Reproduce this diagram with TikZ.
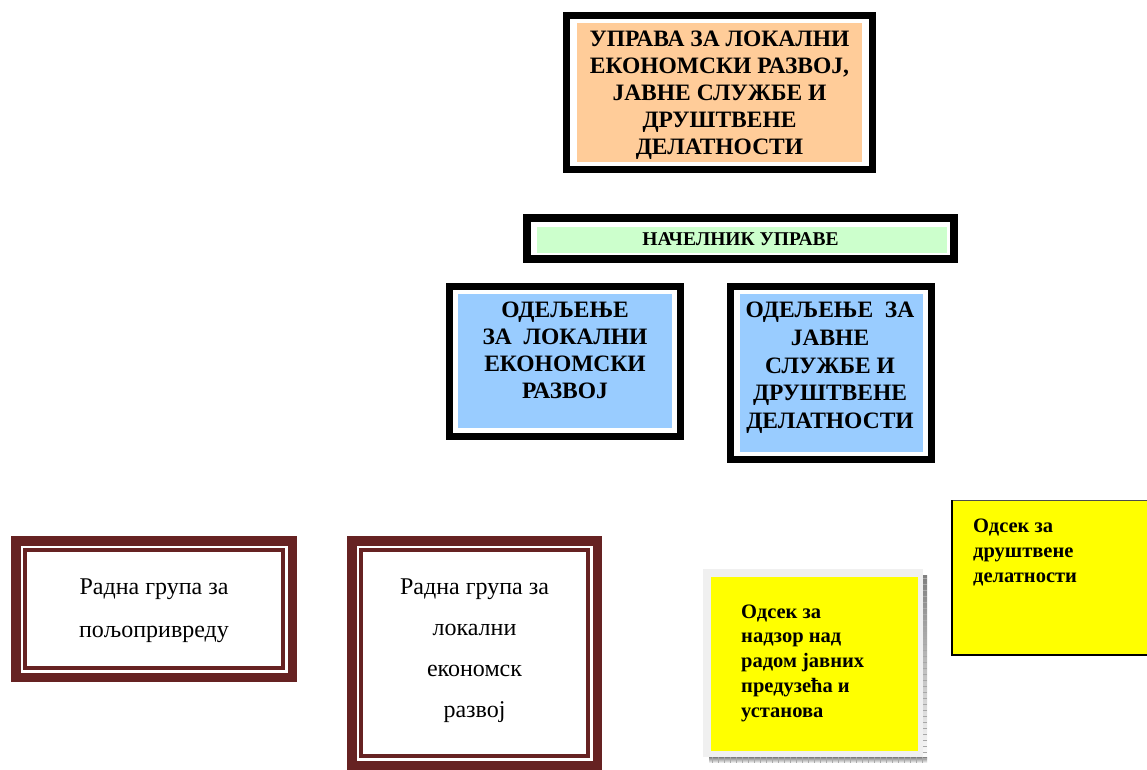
\documentclass[tikz,border=0pt]{standalone}
\usepackage{fontspec}
\setmainfont{Liberation Serif}[BoldFont={Liberation Serif Bold}]
\definecolor{peach}{HTML}{FFCC99}
\definecolor{mint}{HTML}{CCFFCC}
\definecolor{sky}{HTML}{99CCFF}
\definecolor{maroonbd}{HTML}{662222}
\definecolor{lightframe}{HTML}{F0F0F0}
\definecolor{shade}{HTML}{C4C4C4}
\definecolor{shadeline}{HTML}{A8A8A8}
\definecolor{yel}{HTML}{FFFF00}
\tikzset{
  blackframe/.style={draw=black, line width=7pt},
  thickmaroon/.style={draw=maroonbd, line width=9.5pt},
  thinmaroon/.style={draw=maroonbd, line width=4.2pt},
  capstext/.style={font=\fontsize{23.5}{27}\selectfont\bfseries, align=center, inner sep=0pt},
  chieftext/.style={font=\fontsize{19.5}{23}\selectfont\bfseries, inner sep=0pt},
  grouptext/.style={font=\fontsize{24}{43}\selectfont, align=center, inner sep=0pt},
  sectext/.style={font=\fontsize{20.5}{24.7}\selectfont\bfseries, align=left, inner sep=0pt},
}
\begin{document}
\begin{tikzpicture}[x=1pt,y=-1pt]
\useasboundingbox[fill=white] (0,0) rectangle (1147,770);

% Top box
\draw[blackframe] (566.5,15.5) rectangle (872.5,169.5);
\fill[peach] (577,23) rectangle (862,162);
\node[capstext, anchor=north] (uprava) at (719.5,31)
  {УПРАВА ЗА ЛОКАЛНИ\\ЕКОНОМСКИ РАЗВОЈ,\\ЈАВНЕ СЛУЖБЕ И\\ДРУШТВЕНЕ\\ДЕЛАТНОСТИ};

% Chief box
\draw[blackframe, line width=8pt] (527,218) rectangle (954,259);
\fill[mint] (537,227) rectangle (947,253);
\node[chieftext, anchor=base] (nacelnik) at (740.5,245) {НАЧЕЛНИК УПРАВЕ};

% Department 1
\draw[blackframe] (449.5,286.5) rectangle (680.5,436.5);
\fill[sky] (458,294) rectangle (672,428);
\node[capstext, anchor=north] (odeljenje1) at (565,302)
  {ОДЕЉЕЊЕ\\ЗА\ \ ЛОКАЛНИ\\ЕКОНОМСКИ\\РАЗВОЈ};

% Department 2
\draw[blackframe] (730.5,286.5) rectangle (931.5,459.5);
\fill[sky] (740,294) rectangle (923,452);
\node[capstext, anchor=north, font=\fontsize{23.5}{27.7}\selectfont\bfseries] (odeljenje2) at (830,302)
  {ОДЕЉЕЊЕ\ \ ЗА\\ЈАВНЕ\\СЛУЖБЕ И\\ДРУШТВЕНЕ\\ДЕЛАТНОСТИ};

% Working group 1
\draw[thickmaroon] (15.75,540.75) rectangle (292.25,677.25);
\draw[thinmaroon] (24.9,549.9) rectangle (283.1,668.1);
\node[grouptext, anchor=north] (grupa1) at (154,578.4)
  {Радна група за\\пољопривреду};

% Working group 2
\draw[thickmaroon] (351.75,540.75) rectangle (597.25,765.25);
\draw[thinmaroon] (360.9,549.9) rectangle (588.1,756.1);
\node[grouptext, anchor=north, font=\fontsize{24}{41.2}\selectfont] (grupa2) at (474.5,578.4)
  {Радна група за\\локални\\економск\\развој};

% Section 1 (with shadow)
\fill[shade] (923,575) rectangle (927,763);
\fill[shade] (709,757) rectangle (927,763);
\foreach \k in {0,...,35} {
  \draw[shadeline, line width=0.5pt] (712+6*\k,757) -- (712+6*\k,763);
}
\foreach \k in {0,...,30} {
  \draw[shadeline, line width=0.5pt] (923,578+6*\k) -- (927,578+6*\k);
}
\fill[lightframe] (703,569) rectangle (923,757);
\fill[yel] (711,577) rectangle (918,751);
\node[sectext, anchor=north west] (odsek1) at (741,604.5)
  {Одсек за\\надзор над\\радом јавних\\предузећа и\\установа};

% Section 2
\fill[yel] (951,500) rectangle (1150,656);
\draw[line width=1.2pt, black!70] (951,500.6) -- (1150,500.6);
\draw[line width=2.2pt] (952.1,500) -- (952.1,654.9) -- (1150,654.9);
\node[sectext, anchor=north west] (odsek2) at (973,519)
  {Одсек за\\друштвене\\делатности};
\end{tikzpicture}
\end{document}
